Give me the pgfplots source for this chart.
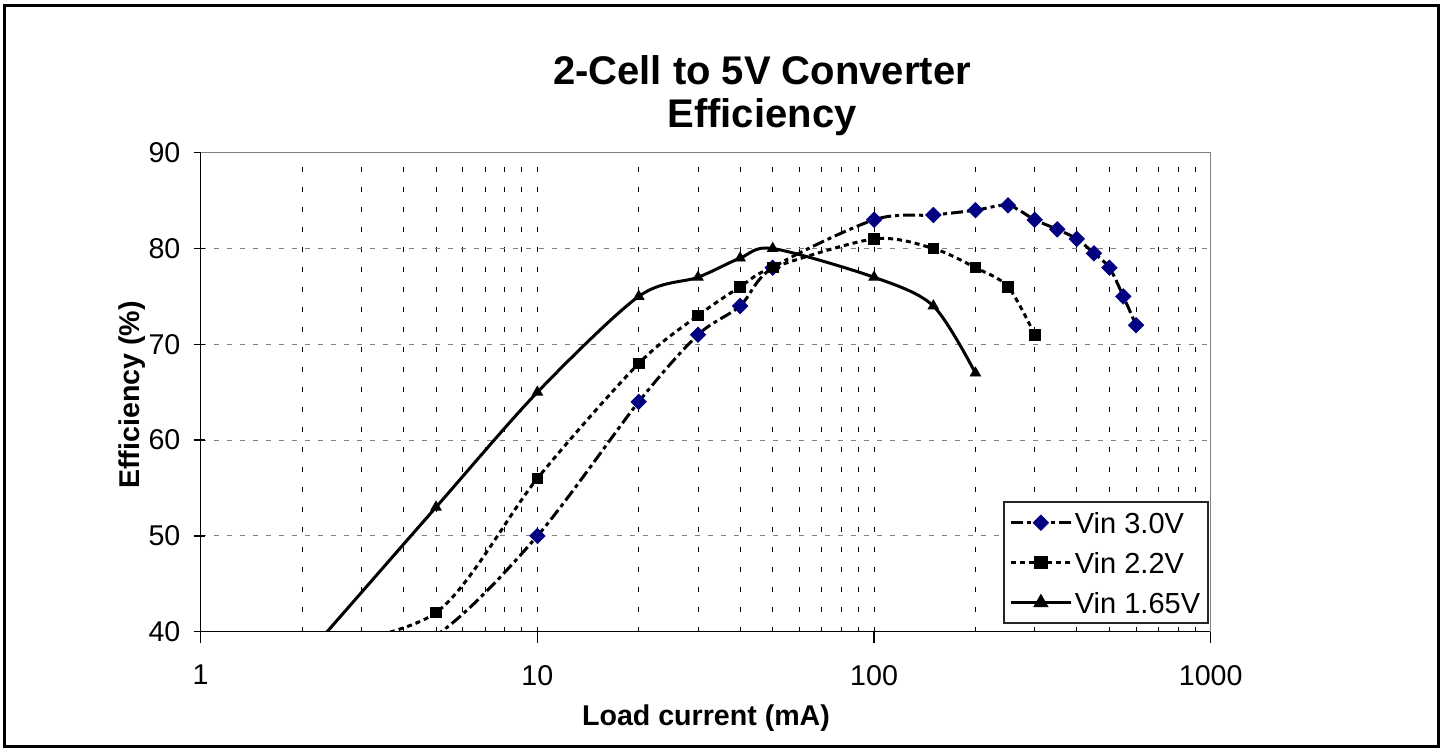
\documentclass[border=0pt]{standalone}
\usepackage{fontspec}
\setmainfont{Liberation Sans}
\usepackage{pgfplots}
\pgfplotsset{compat=1.18}
\definecolor{navy}{RGB}{0,0,128}
\definecolor{gridgray}{RGB}{128,128,128}
\newcommand{\lblfont}{\fontsize{14.3bp}{16bp}\selectfont}
\pgfplotsset{
  s30/.style={black, line width=1.5bp, dash pattern=on 6bp off 2bp on 2bp off 2bp},
  m30/.style={mark=square*, mark size=2.7bp, mark options={rotate=45, solid, fill=navy, draw=navy, line width=0.4bp}},
  s22/.style={black, line width=1.5bp, dash pattern=on 2.5bp off 2bp},
  m22/.style={mark=square*, mark size=2.6bp, mark options={solid, fill=black, draw=black}},
  s165/.style={black, line width=1.5bp, solid},
  m165/.style={mark=triangle*, mark size=3bp, mark options={solid, fill=black, draw=black}},
}
\begin{document}
\begin{tikzpicture}
\begin{axis}[
  at={(0,0)}, anchor=south west,
  scale only axis, width=505bp, height=239.5bp,
  xmode=log, xmin=1, xmax=1000, ymin=40, ymax=90,
  xtick={1,10,100,1000}, xticklabels={1,10,100,1000},
  ytick={40,50,60,70,80,90},
  /pgf/number format/assume math mode=true,
  axis x line*=bottom, axis y line*=left,
  axis line style={-, black, line width=0.65bp},
  tick align=outside, major tick length=5.5bp, minor tick length=0pt,
  xtick style={black, line width=0.65bp},
  ytick style={black, line width=0.65bp, xshift=2bp},
  tick label style={font=\lblfont},
  xticklabel style={inner sep=0pt, anchor=north, yshift=-11bp},
  yticklabel style={inner sep=0pt, anchor=east, xshift=-4.5bp},
  xmajorgrids, xminorgrids, ymajorgrids,
  major x grid style={black, line width=0.5bp, dash pattern=on 2.5bp off 7.5bp},
  minor x grid style={black, line width=0.5bp, dash pattern=on 2.5bp off 7.5bp},
  major y grid style={gridgray, line width=0.5bp, dash pattern=on 2.5bp off 4bp},
  clip=true,
  legend cell align=left,
  legend image code/.code={\draw[mark repeat=2, mark phase=2, #1] plot coordinates {(0bp,0bp) (15bp,0bp) (30bp,0bp)};},
  legend style={at={(0.9983,0.0161)}, anchor=south east, draw=black!85, line width=0.8bp,
    font=\fontsize{14.5bp}{17bp}\selectfont, inner xsep=2.8bp, inner ysep=2bp, row sep=3.5bp,
    nodes={inner xsep=1.25bp, inner ysep=3bp, text height=10.5bp, text depth=0bp}},
]
% Vin 3.0V
\addplot[s30, smooth, no marks, forget plot]
  coordinates {(2,33) (5,39.6) (10,50) (20,64) (30,71) (40,74) (50,78) (100,83) (150,83.5) (200,84) (250,84.5) (300,83) (350,82) (400,81) (450,79.5) (500,78) (550,75) (600,72)};
\addplot[m30, only marks, forget plot]
  coordinates {(10,50) (20,64) (30,71) (40,74) (50,78) (100,83) (150,83.5) (200,84) (250,84.5) (300,83) (350,82) (400,81) (450,79.5) (500,78) (550,75) (600,72)};
% Vin 2.2V
\addplot[s22, smooth, no marks, forget plot]
  coordinates {(2,38) (5,42) (10,56) (20,68) (30,73) (40,76) (50,78) (100,81) (150,80) (200,78) (250,76) (300,71)};
\addplot[m22, only marks, forget plot]
  coordinates {(5,42) (10,56) (20,68) (30,73) (40,76) (50,78) (100,81) (150,80) (200,78) (250,76) (300,71)};
% Vin 1.65V
\addplot[s165, smooth, no marks, forget plot]
  coordinates {(2,37) (5,53) (10,65) (20,75) (30,77) (40,79) (50,80) (100,77) (150,74) (200,67)};
\addplot[m165, only marks, forget plot]
  coordinates {(5,53) (10,65) (20,75) (30,77) (40,79) (50,80) (100,77) (150,74) (200,67)};
\addlegendimage{s30, m30}
\addlegendentry{Vin 3.0V}
\addlegendimage{s22, m22}
\addlegendentry{Vin 2.2V}
\addlegendimage{s165, m165}
\addlegendentry{Vin 1.65V}
\draw[gridgray, line width=0.6bp] (rel axis cs:0,1) -- (rel axis cs:1,1) -- (rel axis cs:1,0);
\end{axis}
\begin{scope}[x=0.5bp, y=-0.5bp, shift={(-100.35bp,315.85bp)}]
  \path[use as bounding box] (0,0) rectangle (1443,751);
  \draw[black, line width=1.5bp] (4.5,5.7) rectangle (1438.5,746);
  \node[anchor=base, inner sep=0pt, font=\fontsize{20bp}{22bp}\selectfont\bfseries] at (762,85) {2-Cell to 5V Converter};
  \node[anchor=base, inner sep=0pt, font=\fontsize{20bp}{22bp}\selectfont\bfseries] at (762,128) {Efficiency};
  \node[anchor=base, inner sep=0pt, font=\lblfont\bfseries] at (706,725) {Load current (mA)};
  \node[anchor=base, inner sep=0pt, rotate=90, font=\lblfont\bfseries] at (140,395) {Efficiency (\%)};
\end{scope}
\end{tikzpicture}
\end{document}
